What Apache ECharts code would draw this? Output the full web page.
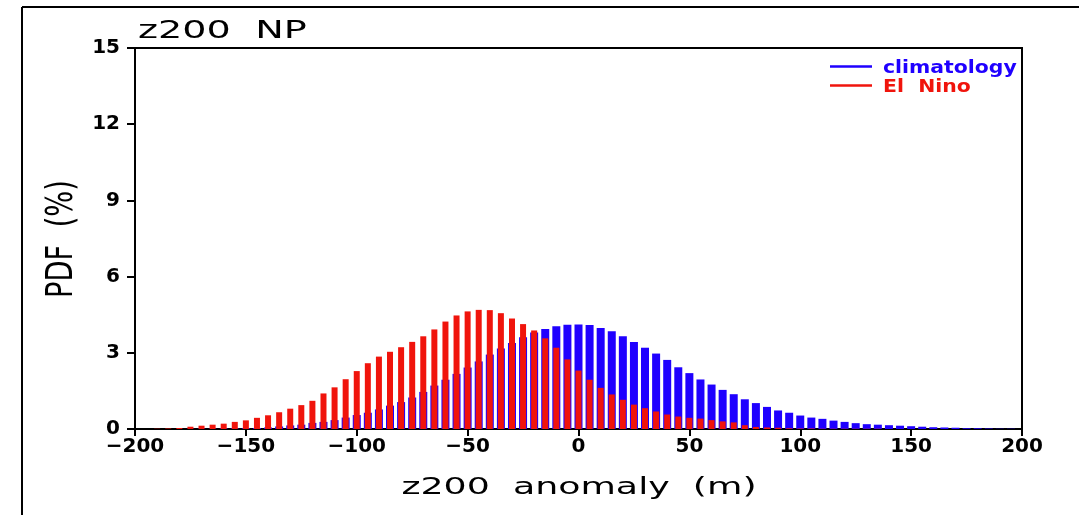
<!DOCTYPE html>
<html>
<head>
<meta charset="utf-8">
<script src="https://cdn.jsdelivr.net/npm/echarts@6/dist/echarts.min.js"></script>
<style>
html,body{margin:0;padding:0;background:#fff;}
#chart{width:1079px;height:515px;}
</style>
</head>
<body>
<div id="chart"></div>
<script>
// anomaly bins (m)
const anomaly = [-200,-195,-190,-185,-180,-175,-170,-165,-160,-155,-150,-145,-140,-135,-130,-125,-120,-115,-110,-105,
  -100,-95,-90,-85,-80,-75,-70,-65,-60,-55,-50,-45,-40,-35,-30,-25,-20,-15,-10,-5,
  0,5,10,15,20,25,30,35,40,45,50,55,60,65,70,75,80,85,90,95,
  100,105,110,115,120,125,130,135,140,145,150,155,160,165,170,175,180,185,190,195,200];

// PDF (%) climatology
const climatology = [0,0,0,0,0,0.005,0.01,0.01,0.02,0.02,0.03,0.04,0.06,0.10,0.14,0.17,0.24,0.28,0.35,0.45,
  0.55,0.64,0.77,0.92,1.06,1.24,1.46,1.71,1.94,2.17,2.42,2.66,2.93,3.17,3.39,3.61,3.80,3.94,4.05,4.10,
  4.11,4.09,3.98,3.85,3.65,3.43,3.20,2.97,2.72,2.43,2.20,1.95,1.75,1.54,1.37,1.17,1.02,0.87,0.73,0.64,
  0.53,0.45,0.40,0.33,0.28,0.23,0.19,0.17,0.15,0.13,0.11,0.09,0.07,0.06,0.05,0.03,0.03,0.02,0.01,0.01,0];

// PDF (%) El Nino
const elNino = [0,0,0.01,0.02,0.04,0.09,0.13,0.17,0.21,0.28,0.34,0.44,0.54,0.66,0.80,0.94,1.11,1.40,1.64,1.96,
  2.28,2.59,2.85,3.04,3.22,3.43,3.65,3.92,4.23,4.47,4.63,4.69,4.68,4.56,4.35,4.13,3.88,3.57,3.20,2.74,
  2.30,1.94,1.62,1.36,1.15,0.96,0.82,0.69,0.57,0.49,0.44,0.41,0.35,0.30,0.26,0.15,0.08,0.06,0.05,0.03,
  0.02,0.02,0.01,0.01,0.01,0.01,0.01,0.01,0,0,0,0,0,0,0,0,0,0,0,0,0];

const xTicks = {min:-200, max:200, interval:50};
const yTicks = {min:0, max:15, interval:3};

const BLUE = '#1f00ff';
const RED = '#f0140c';

const chart = echarts.init(document.getElementById('chart'), null, {renderer:'canvas'});

const tickFont = {fontFamily:'DejaVu Sans', fontWeight:'bold', fontSize:20, color:'#000'};
const xAxisBase = {
  type:'value', min:xTicks.min, max:xTicks.max, interval:xTicks.interval,
  axisLine:{show:true, onZero:false, lineStyle:{color:'#000', width:2}},
  axisTick:{show:true, inside:false, length:7, lineStyle:{color:'#000', width:2}},
  axisLabel:Object.assign({margin:8, formatter:v => v < 0 ? '\u2212' + Math.abs(v) : String(v)}, tickFont),
  splitLine:{show:false}
};

chart.setOption({
  animation:false,
  backgroundColor:'#fff',
  grid:{left:135, right:57, top:48, bottom:86, show:true, borderColor:'#000', borderWidth:2, containLabel:false},
  xAxis:[
    xAxisBase,
    Object.assign({}, xAxisBase, {show:false})
  ],
  yAxis:{
    type:'value', min:yTicks.min, max:yTicks.max, interval:yTicks.interval,
    axisLine:{show:true, onZero:false, lineStyle:{color:'#000', width:2}},
    axisTick:{show:true, inside:false, length:8, lineStyle:{color:'#000', width:2}},
    axisLabel:Object.assign({margin:15}, tickFont),
    splitLine:{show:false}
  },
  series:[
    {name:'climatology', type:'bar', xAxisIndex:0, barWidth:8,
     itemStyle:{color:BLUE}, data:anomaly.map((x,i)=>[x, climatology[i]])},
    {name:'El Nino', type:'bar', xAxisIndex:1, barWidth:6,
     itemStyle:{color:RED}, data:anomaly.map((x,i)=>[x, elNino[i]])}
  ],
  graphic:[
    // outer frame (left and top)
    {type:'line', shape:{x1:22, y1:7, x2:22, y2:515}, style:{stroke:'#000', lineWidth:2}},
    {type:'line', shape:{x1:22, y1:7, x2:1079, y2:7}, style:{stroke:'#000', lineWidth:2}},
    // title
    {type:'text', x:138, y:32, scaleX:1.59,
     style:{text:'z200  NP', font:'24px "DejaVu Sans"', fill:'#000', align:'left', verticalAlign:'middle', textAlign:'left', textVerticalAlign:'middle'}},
    // x axis name
    {type:'text', x:579, y:488, scaleX:1.58,
     style:{text:'z200  anomaly  (m)', font:'23px "DejaVu Sans"', fill:'#000', align:'center', verticalAlign:'middle', textAlign:'center', textVerticalAlign:'middle'}},
    // y axis name
    {type:'text', x:62, y:239, rotation:Math.PI/2, scaleX:1.05, scaleY:1.42,
     style:{text:'PDF  (%)', font:'26px "DejaVu Sans"', fill:'#000', align:'center', verticalAlign:'middle', textAlign:'center', textVerticalAlign:'middle'}},
    // legend
    {type:'line', shape:{x1:830, y1:66.5, x2:872, y2:66.5}, style:{stroke:BLUE, lineWidth:2.5}},
    {type:'line', shape:{x1:830, y1:85.5, x2:872, y2:85.5}, style:{stroke:RED, lineWidth:2.5}},
    {type:'text', x:883, y:69, scaleX:1.2,
     style:{text:'climatology', font:'bold 17px "DejaVu Sans"', fill:BLUE, align:'left', verticalAlign:'middle', textAlign:'left', textVerticalAlign:'middle'}},
    {type:'text', x:883, y:87.5, scaleX:1.2,
     style:{text:'El  Nino', font:'bold 17px "DejaVu Sans"', fill:RED, align:'left', verticalAlign:'middle', textAlign:'left', textVerticalAlign:'middle'}}
  ]
});
</script>
</body>
</html>
